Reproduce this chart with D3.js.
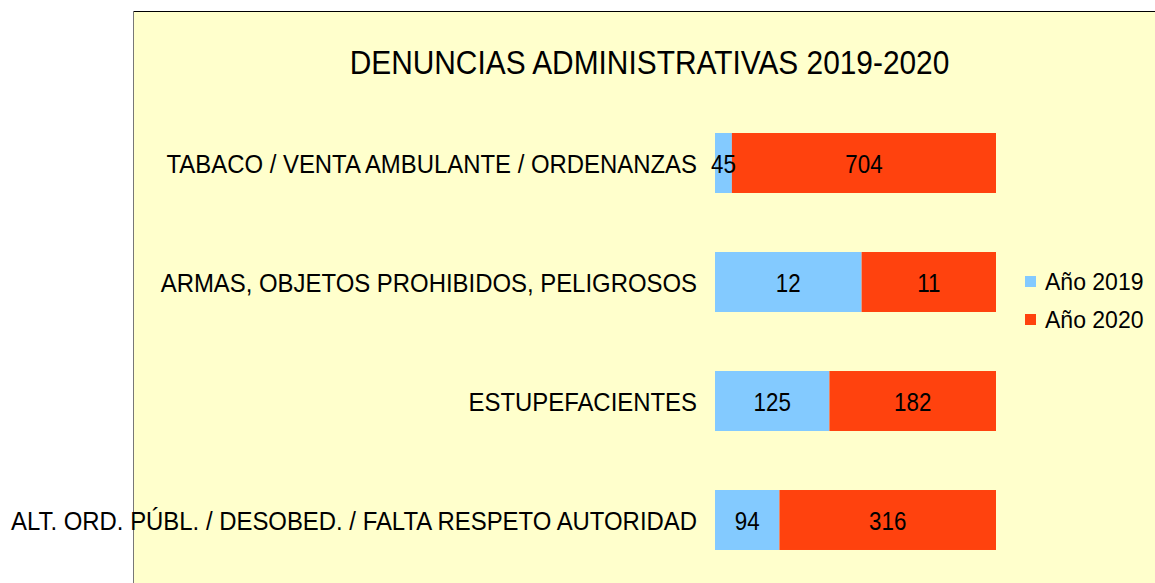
<!DOCTYPE html>
<html>
<head>
<meta charset="utf-8">
<script src="https://d3js.org/d3.v7.min.js"></script>
<style>
  body { margin: 0; background: #fff; }
  text { font-family: "Liberation Sans", Arial, sans-serif; fill: #000; }
</style>
</head>
<body>
<div id="chart"></div>
<script>
    // data
    var categories = [
        "TABACO / VENTA AMBULANTE / ORDENANZAS",
        "ARMAS, OBJETOS PROHIBIDOS, PELIGROSOS",
        "ESTUPEFACIENTES",
        "ALT. ORD. PÚBL. / DESOBED. / FALTA RESPETO AUTORIDAD"
    ];
    var seriesNames = ["Año 2019", "Año 2020"];
    var values2019 = [45, 12, 125, 94];
    var values2020 = [704, 11, 182, 316];
    var colors = ["#83caff", "#ff420e"];

    var width = 1155, height = 583;

    // the original text is a bit narrow, squeeze it horizontally
    function place(x, y, sx) {
        return "translate(" + x + "," + y + ") scale(" + sx + ",1)";
    }

    var svg = d3.select("#chart").append("svg")
        .attr("width", width)
        .attr("height", height);

    // pale panel
    svg.append("rect")
        .attr("x", 133.5).attr("y", 11.5)
        .attr("width", width).attr("height", height)
        .attr("fill", "#ffffcc");
    svg.append("line")
        .attr("x1", 133.5).attr("x2", width).attr("y1", 11.5).attr("y2", 11.5)
        .attr("stroke", "#000");
    svg.append("line")
        .attr("x1", 133.5).attr("x2", 133.5).attr("y1", 11.5).attr("y2", height)
        .attr("stroke", "#777");

    svg.append("text")
        .attr("transform", place(649.5, 74, 0.905))
        .attr("text-anchor", "middle")
        .style("font-size", "33px")
        .text("DENUNCIAS ADMINISTRATIVAS 2019-2020");

    var y = d3.scaleBand()
        .domain(categories)
        .range([103.5, 579.5])
        .paddingInner(0.496)
        .paddingOuter(0.248);

    var x = d3.scaleLinear().domain([0, 1]).range([715, 996]);

    var rows = categories.map(function (c, i) {
        var total = values2019[i] + values2020[i];
        return {
            cat: c,
            segs: [
                { v: values2019[i], x0: 0, x1: values2019[i] / total, s: 0 },
                { v: values2020[i], x0: values2019[i] / total, x1: 1, s: 1 }
            ]
        };
    });

    var row = svg.selectAll(".row").data(rows).enter().append("g")
        .attr("transform", function (d) { return "translate(0," + y(d.cat) + ")"; });

    row.selectAll("rect").data(function (d) { return d.segs; }).enter().append("rect")
        .attr("x", function (d) { return x(d.x0); })
        .attr("width", function (d) { return x(d.x1) - x(d.x0); })
        .attr("height", y.bandwidth())
        .attr("fill", function (d) { return colors[d.s]; });

    row.selectAll(".val").data(function (d) { return d.segs; }).enter().append("text")
        .attr("class", "val")
        .attr("transform", function (d) { return place((x(d.x0) + x(d.x1)) / 2, y.bandwidth() / 2 + 9.5, 0.86); })
        .attr("text-anchor", "middle")
        .style("font-size", "26px")
        .text(function (d) { return d.v; });

    row.append("text")
        .attr("transform", place(697, y.bandwidth() / 2 + 9.5, 0.92))
        .attr("text-anchor", "end")
        .style("font-size", "26px")
        .text(function (d) { return d.cat; });

    // legend
    var legend = svg.selectAll(".leg").data(seriesNames).enter().append("g")
        .attr("transform", function (d, i) { return "translate(1025," + (276 + i * 38) + ")"; });
    legend.append("rect")
        .attr("width", 11).attr("height", 11)
        .attr("fill", function (d, i) { return colors[i]; });
    legend.append("text")
        .attr("x", 20).attr("y", 13.5)
        .style("font-size", "23px")
        .text(function (d) { return d; });
</script>
</body>
</html>
